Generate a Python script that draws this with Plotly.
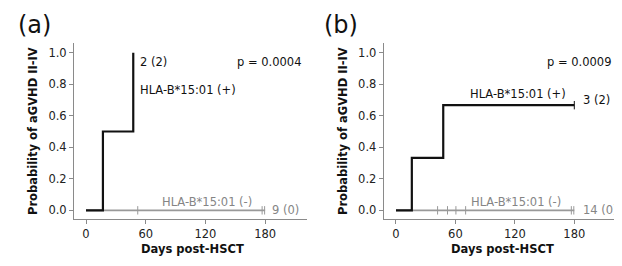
import plotly.graph_objects as go

# ---- data ----
xticks = [0, 60, 120, 180]
yticks = [0.0, 0.2, 0.4, 0.6, 0.8, 1.0]

a_pos_t = [0, 17, 47.5]
a_pos_p = [0, 0.5, 1.0]
a_neg_t = [0, 180]
a_neg_p = [0, 0]
a_neg_cens = [52, 177, 179.5]
a_pos_cens = []

b_pos_t = [0, 16, 47.7, 180]
b_pos_p = [0, 0.333, 0.667, 0.667]
b_pos_cens = [180]
b_neg_t = [0, 180]
b_neg_p = [0, 0]
b_neg_cens = [42, 52, 60.5, 70.3, 177, 179.5]

panel_labels = ["(a)", "(b)"]
p_values = ["p = 0.0004", "p = 0.0009"]
pos_label = "HLA-B*15:01 (+)"
neg_label = "HLA-B*15:01 (-)"
a_counts = ["2 (2)", "9 (0)"]
b_counts = ["3 (2)", "14 (0)"]

BLACK = "#111111"
GRAY = "#999999"
GRAY_TXT = "#858585"
FONT = "DejaVu Sans"
OFF = 8  # page body margin
W, H = 622 - OFF, 266 - OFF

def px(x):
    return (x - OFF) / W

def py(y):
    return 1 - (y - OFF) / H

fig = go.Figure()

def add_panel(xa, ya, pos_t, pos_p, pos_c, neg_t, neg_p, neg_c):
    fig.add_trace(go.Scatter(x=neg_t, y=neg_p, mode="lines", line=dict(color=GRAY, width=1.6, shape="hv"),
                             xaxis=xa, yaxis=ya, showlegend=False, hoverinfo="skip"))
    fig.add_trace(go.Scatter(x=neg_c, y=[0] * len(neg_c), mode="markers",
                             marker=dict(symbol="line-ns", size=6, line=dict(color=GRAY, width=1)),
                             xaxis=xa, yaxis=ya, showlegend=False, hoverinfo="skip"))
    fig.add_trace(go.Scatter(x=pos_t, y=pos_p, mode="lines", line=dict(color=BLACK, width=2.2, shape="hv"),
                             xaxis=xa, yaxis=ya, showlegend=False, hoverinfo="skip"))
    if pos_c:
        fig.add_trace(go.Scatter(x=pos_c, y=[pos_p[-1]] * len(pos_c), mode="markers",
                                 marker=dict(symbol="line-ns", size=6, line=dict(color=BLACK, width=1)),
                                 xaxis=xa, yaxis=ya, showlegend=False, hoverinfo="skip"))

add_panel("x", "y", a_pos_t, a_pos_p, a_pos_cens, a_neg_t, a_neg_p, a_neg_cens)
add_panel("x2", "y2", b_pos_t, b_pos_p, b_pos_cens, b_neg_t, b_neg_p, b_neg_cens)

ax_common = dict(showline=True, linecolor="#8a8a8a", linewidth=1, ticks="outside", ticklen=4,
                 tickcolor="#8a8a8a", showgrid=False, zeroline=False,
                 tickfont=dict(family=FONT, size=11.5, color="#222"))

y_dom = [py(219), py(43)]
fig.update_layout(
    width=W, height=H, margin=dict(l=0, r=0, t=0, b=0),
    paper_bgcolor="white", plot_bgcolor="white",
    xaxis=dict(domain=[px(74), px(307)], range=[-12.06, 222.1], tickvals=xticks, anchor="y", **ax_common),
    yaxis=dict(domain=y_dom, range=[-0.055, 1.0615], tickvals=yticks, tickformat=".1f", anchor="x", **ax_common),
    xaxis2=dict(domain=[px(383.7), px(617)], range=[-12.4, 223.1], tickvals=xticks, anchor="y2", **ax_common),
    yaxis2=dict(domain=y_dom, range=[-0.055, 1.0615], tickvals=yticks, tickformat=".1f", anchor="x2", **ax_common),
)

def txt(x, y, s, xref, yref, color=BLACK, size=11.5, xanchor="left", bold=False, angle=0):
    fig.add_annotation(x=x, y=y, xref=xref, yref=yref, text=f"<b>{s}</b>" if bold else s,
                       showarrow=False, xanchor=xanchor, yanchor="middle", textangle=angle,
                       font=dict(family=FONT, size=size, color=color))

# panel (a) texts
txt(52.3, 0.94, a_counts[0], "x", "y")
txt(52.3, 0.763, pos_label, "x", "y")
txt(219, 0.94, p_values[0], "x", "y", xanchor="right")
txt(74.4, 0.055, neg_label, "x", "y", color=GRAY_TXT)
txt(185, 0.0, a_counts[1], "x", "y", color=GRAY_TXT)

# panel (b) texts
txt(72.4, 0.735, pos_label, "x2", "y2")
txt(186.8, 0.70, b_counts[0], "x2", "y2")
txt(220, 0.94, p_values[1], "x2", "y2", xanchor="right")
txt(74, 0.055, neg_label, "x2", "y2", color=GRAY_TXT)
txt(186.8, 0.0, b_counts[1], "x2", "y2", color=GRAY_TXT)

# axis titles and panel labels
for cx, lab, lx in [(192, panel_labels[0], 16), (502, panel_labels[1], 322)]:
    txt(px(cx), py(249), "Days post-HSCT", "paper", "paper", xanchor="center", bold=True, size=11.5)
    txt(px(lx), py(25), lab, "paper", "paper", size=24)
for cx in [33, 343]:
    txt(px(cx), py(131), "Probability of aGVHD II-IV", "paper", "paper", xanchor="center",
        bold=True, size=11.5, angle=-90)

fig.write_html("out.html")
